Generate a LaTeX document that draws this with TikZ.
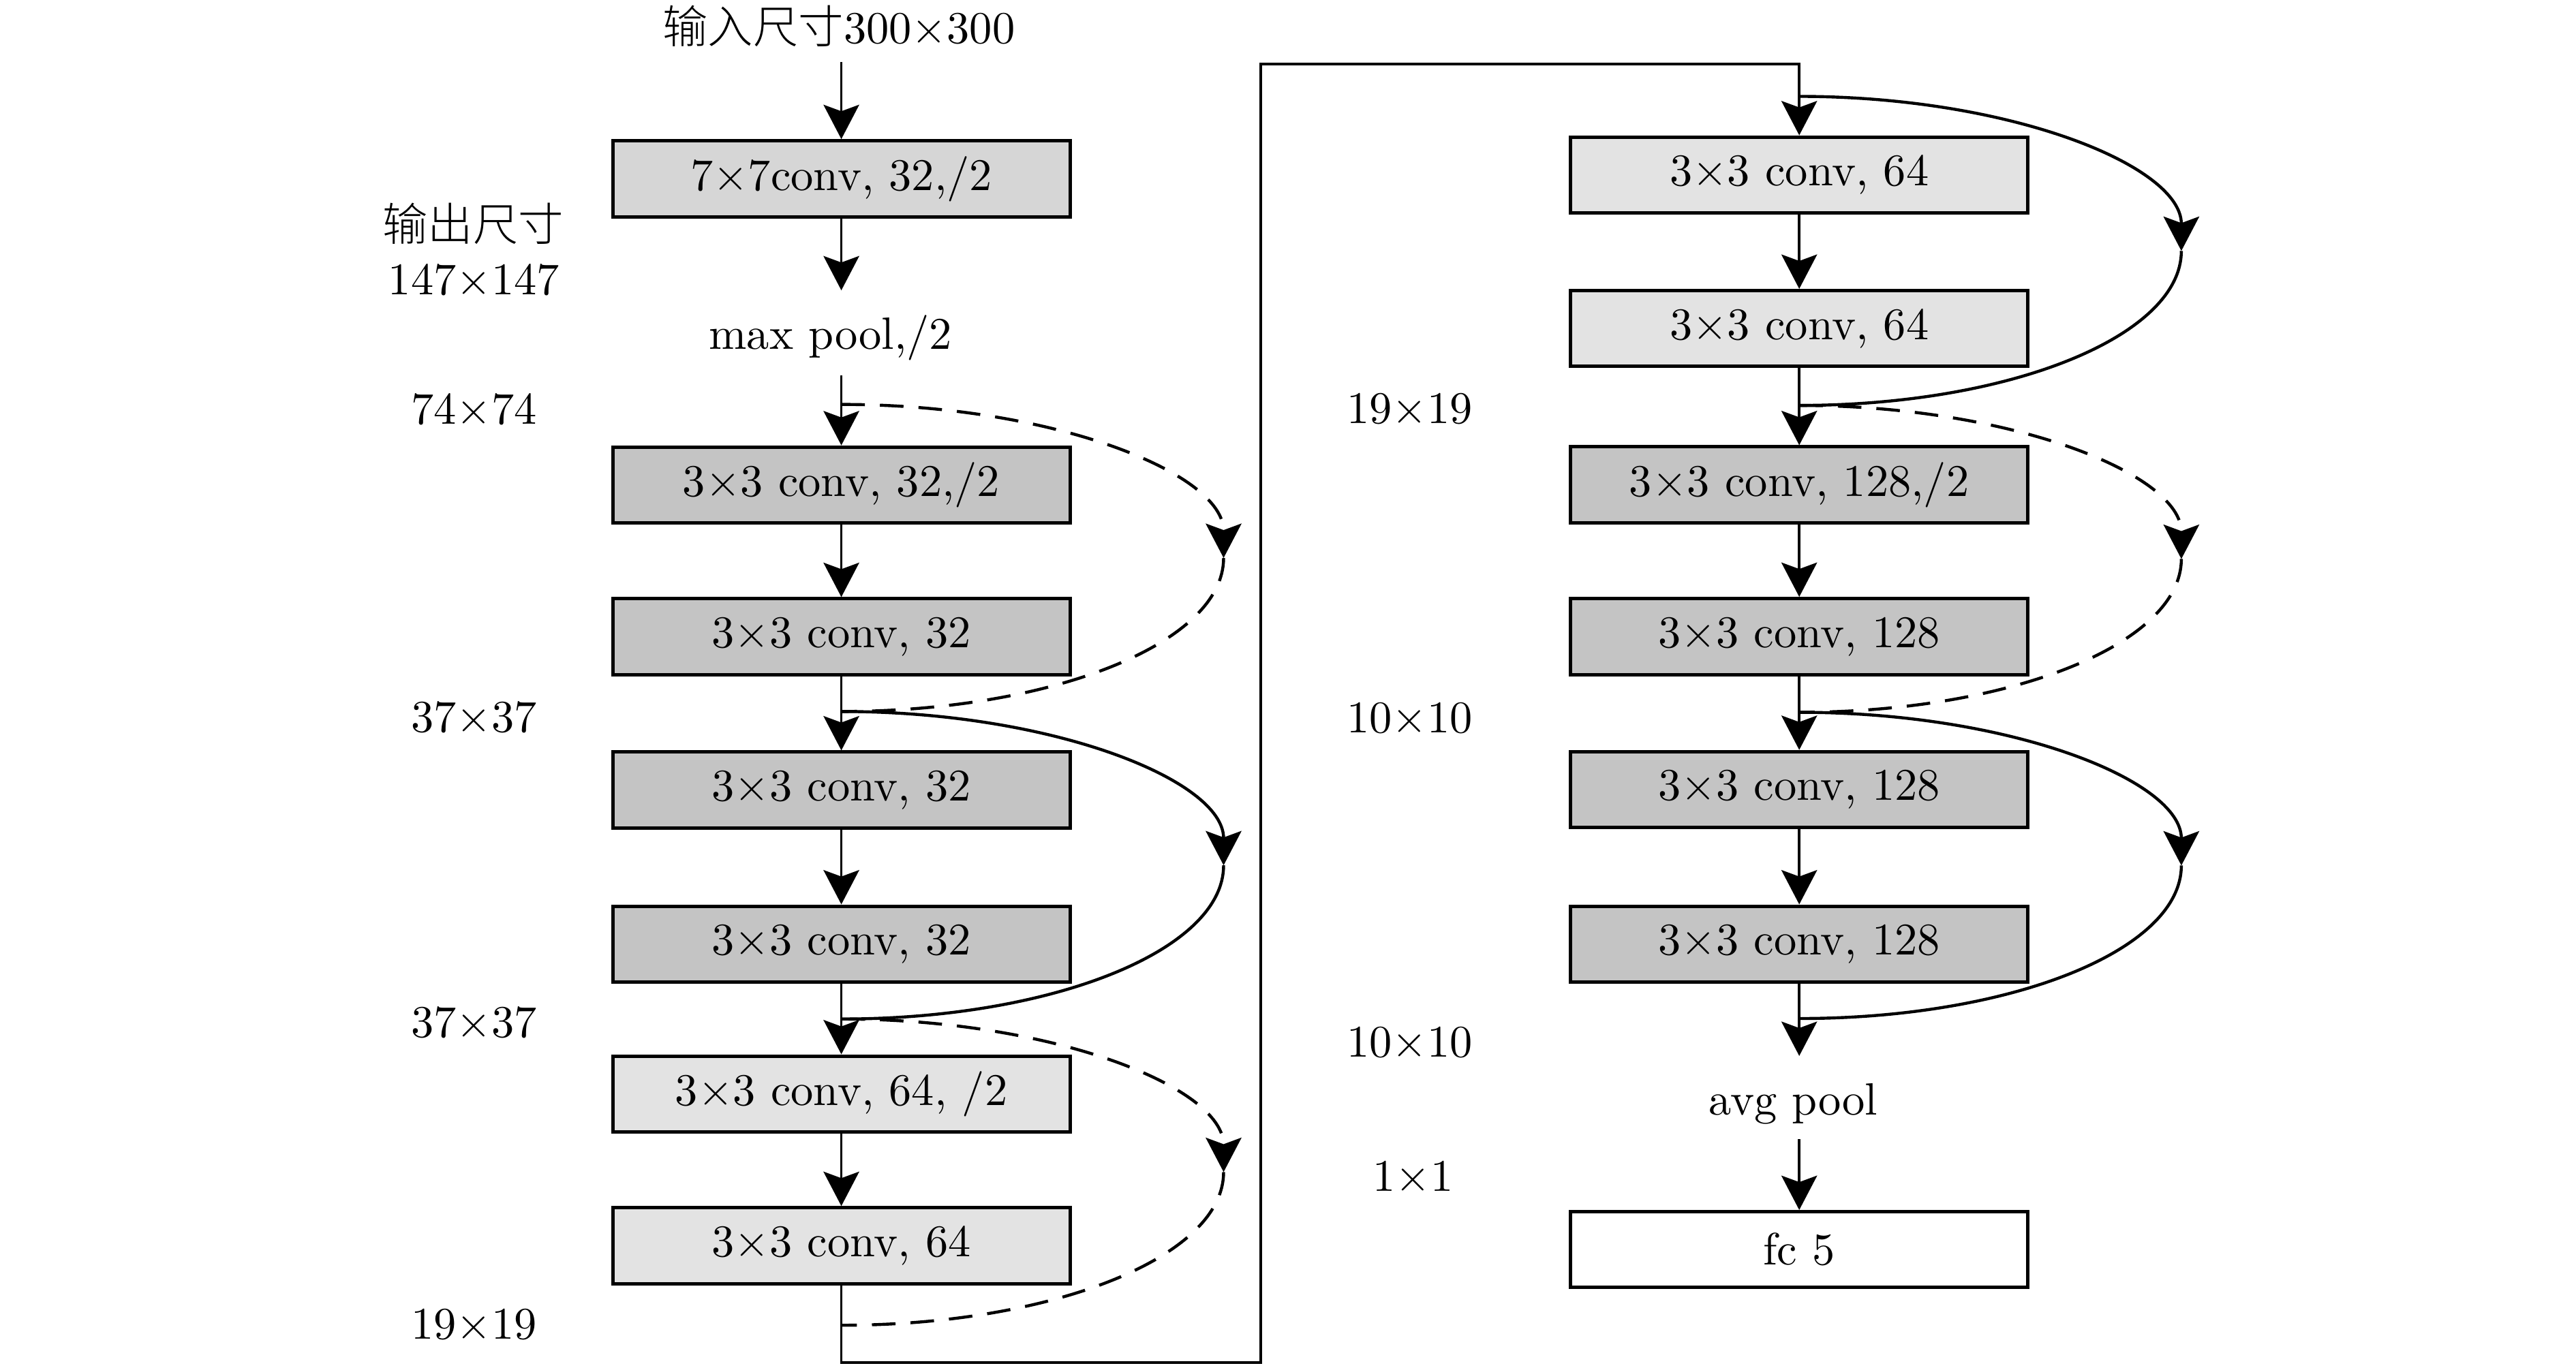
\documentclass[tikz,border=0pt]{standalone}
\usepackage{fontspec}
\newfontfamily\cjk{Noto Sans CJK SC Light}
\usetikzlibrary{arrows.meta,calc}
\definecolor{boxA}{RGB}{214,214,214}
\definecolor{boxB}{RGB}{196,196,196}
\definecolor{boxC}{RGB}{227,227,227}
\begin{document}
\begin{tikzpicture}[x=0.385pt,y=-0.385pt,
  font=\fontsize{10.56pt}{12.7pt}\selectfont,
  blk/.style={draw, line width=0.8pt, minimum width=106.6pt, minimum height=17.7pt, inner sep=0pt},
  tipS/.style={-{Stealth[length=8pt,width=8.3pt,inset=1.5pt]}},
  arr/.style={line width=0.6pt, tipS},
  skipS/.style={line width=0.7pt},
  skipD/.style={line width=0.7pt, dash pattern=on 5.5pt off 3.5pt}]
\useasboundingbox (0,0) rectangle (1560,828.7);

% left column
\node[blk, fill=boxA] (b1) at (509.5,108.3) {7×7conv, 32,/2};
\node[blk, fill=boxB] (b2) at (509.5,293.8) {3×3 conv, 32,/2};
\node[blk, fill=boxB] (b3) at (509.5,385.7) {3×3 conv, 32};
\node[blk, fill=boxB] (b4) at (509.5,478.6) {3×3 conv, 32};
\node[blk, fill=boxB] (b5) at (509.5,571.9) {3×3 conv, 32};
\node[blk, fill=boxC] (b6) at (509.5,662.7) {3×3 conv, 64, /2};
\node[blk, fill=boxC] (b7) at (509.5,754.6) {3×3 conv, 64};
% right column
\node[blk, fill=boxC] (b8) at (1089.6,106) {3×3 conv, 64};
\node[blk, fill=boxC] (b9) at (1089.6,199) {3×3 conv, 64};
\node[blk, fill=boxB] (b10) at (1089.6,293.7) {3×3 conv, 128,/2};
\node[blk, fill=boxB] (b11) at (1089.6,385.6) {3×3 conv, 128};
\node[blk, fill=boxB] (b12) at (1089.6,478.3) {3×3 conv, 128};
\node[blk, fill=boxB] (b13) at (1089.6,571.9) {3×3 conv, 128};
\node[blk, fill=white] (fc) at (1089.6,757) {fc 5};

% text nodes
\node (in) at (508,16) {{\cjk 输入尺寸}300×300};
\node (mp) at (503,204.5) {max pool,/2};
\node (ap) at (1086,668.7) {avg pool};
\node (o1) at (286.5,135.5) {\cjk 输出尺寸};
\node (o2) at (287,169.4) {147×147};
\node (s1) at (287,248) {74×74};
\node (s2) at (287,434.5) {37×37};
\node (s3) at (287,619.5) {37×37};
\node (s4) at (287,802.5) {19×19};
\node (t1) at (853.6,247.5) {19×19};
\node (t2) at (853.6,435) {10×10};
\node (t3) at (853.6,631.5) {10×10};
\node (t4) at (855.6,712.5) {1×1};

% branch points and curve extremes
\coordinate (p1) at (509.5,245);
\coordinate (p2) at (509.5,431);
\coordinate (p3) at (509.5,617.3);
\coordinate (p4) at (509.5,802.8);
\coordinate (r1) at (741,338);
\coordinate (r2) at (741,524.2);
\coordinate (r3) at (741,710);
\coordinate (q1) at (1089.6,58.4);
\coordinate (q2) at (1089.6,245.6);
\coordinate (q3) at (1089.6,431.5);
\coordinate (q4) at (1089.6,617);
\coordinate (u1) at (1321,152);
\coordinate (u2) at (1321,338.6);
\coordinate (u3) at (1321,524.3);
% route corners
\coordinate (c1) at (509.5,825.3);
\coordinate (c2) at (763.4,825.3);
\coordinate (c3) at (763.4,38.7);
\coordinate (c4) at (1089.6,38.7);

% main flow
\draw[arr] (in.south -| b1.north) -- (b1);
\draw[arr, shorten >=2.2pt] (b1) -- (b1 |- mp.north);
\draw[arr] (mp.south -| b2.north) -- (b2);
\draw[arr] (b2) -- (b3);
\draw[arr] (b3) -- (b4);
\draw[arr] (b4) -- (b5);
\draw[arr] (b5) -- (b6);
\draw[arr] (b6) -- (b7);
\draw[arr] (b7.south) -- (c1) -- (c2) -- (c3) -- (c4) -- (b8);
\draw[arr] (b8) -- (b9);
\draw[arr] (b9) -- (b10);
\draw[arr] (b10) -- (b11);
\draw[arr] (b11) -- (b12);
\draw[arr] (b12) -- (b13);
\draw[arr, shorten >=2.9pt] (b13) -- (b13 |- ap.north);
\draw[arr] (ap.south -| fc.north) -- (fc);

% shortcut curves (quarter ellipses)
\draw[skipD, tipS] (p1) .. controls ($(p1)+(127.8,0)$) and ($(r1)+(0,-51.5)$) .. (r1);
\draw[skipD] (r1) .. controls ($(r1)+(0,51.5)$) and ($(p2)+(127.8,0)$) .. (p2);
\draw[skipS, tipS] (p2) .. controls ($(p2)+(127.8,0)$) and ($(r2)+(0,-51.5)$) .. (r2);
\draw[skipS] (r2) .. controls ($(r2)+(0,51.5)$) and ($(p3)+(127.8,0)$) .. (p3);
\draw[skipD, tipS] (p3) .. controls ($(p3)+(127.8,0)$) and ($(r3)+(0,-51.5)$) .. (r3);
\draw[skipD] (r3) .. controls ($(r3)+(0,51.5)$) and ($(p4)+(127.8,0)$) .. (p4);

\draw[skipS, tipS] (q1) .. controls ($(q1)+(127.8,0)$) and ($(u1)+(0,-51.5)$) .. (u1);
\draw[skipS] (u1) .. controls ($(u1)+(0,51.5)$) and ($(q2)+(127.8,0)$) .. (q2);
\draw[skipD, tipS] (q2) .. controls ($(q2)+(127.8,0)$) and ($(u2)+(0,-51.5)$) .. (u2);
\draw[skipD] (u2) .. controls ($(u2)+(0,51.5)$) and ($(q3)+(127.8,0)$) .. (q3);
\draw[skipS, tipS] (q3) .. controls ($(q3)+(127.8,0)$) and ($(u3)+(0,-51.5)$) .. (u3);
\draw[skipS] (u3) .. controls ($(u3)+(0,51.5)$) and ($(q4)+(127.8,0)$) .. (q4);
\end{tikzpicture}
\end{document}
